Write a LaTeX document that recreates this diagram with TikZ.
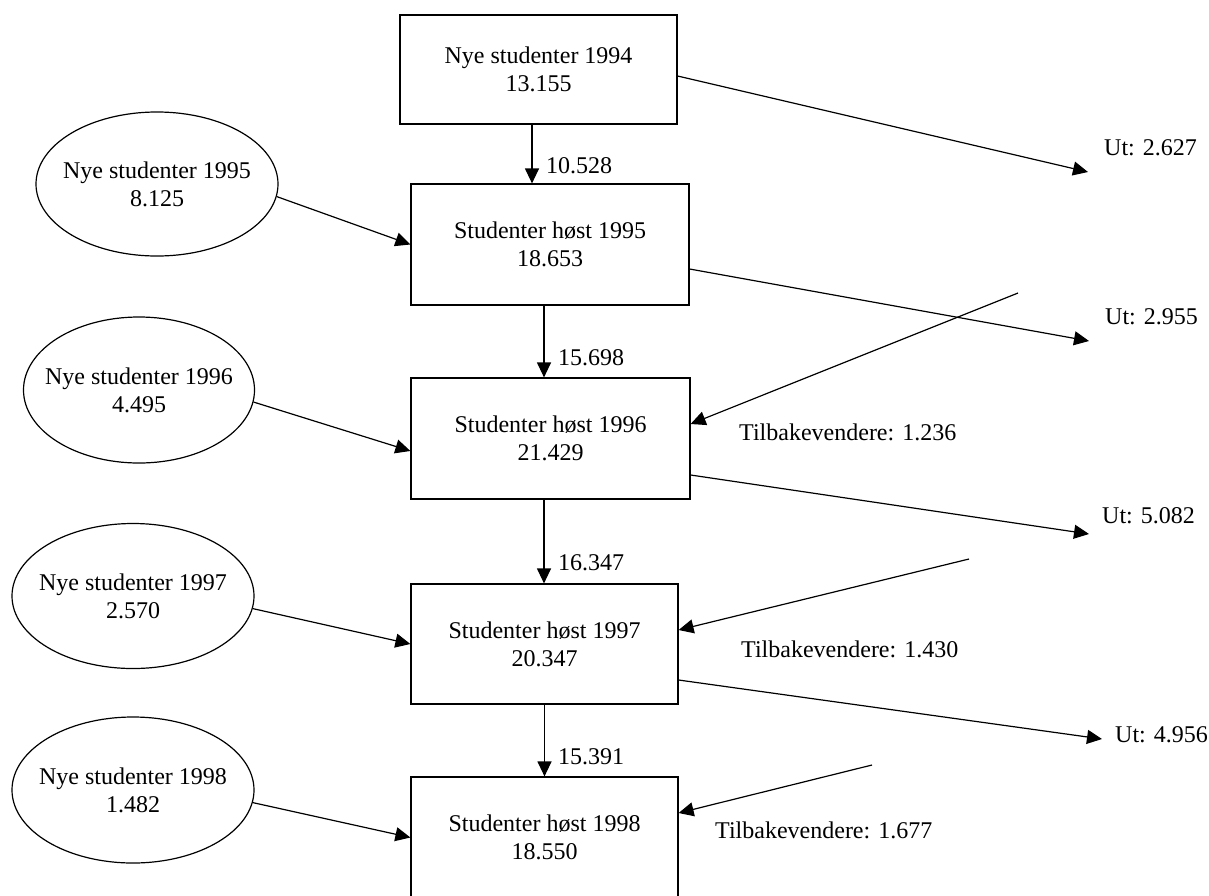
\documentclass[tikz,border=0pt]{standalone}
\usepackage{fontspec}
\setmainfont{Liberation Serif}
\usetikzlibrary{shapes.geometric,arrows.meta}
\begin{document}
\begin{tikzpicture}[x=1pt,y=-1pt,
  every node/.style={font=\fontsize{24}{28}\selectfont, inner sep=0pt},
  box/.style={draw, line width=1.2pt, rectangle, align=center},
  ell/.style={draw, line width=1.2pt, ellipse},
  txt/.style={align=center},
  lbl/.style={anchor=west},
  arr/.style={line width=1.2pt, -{Triangle[length=15pt,width=14pt]}}]
\clip (0,0) rectangle (1209,895);
\fill[white] (0,0) rectangle (1209,895);
% boxes
\node[box, minimum width=277pt, minimum height=109pt] (b94) at (538.5,69.5) {Nye studenter 1994\\13.155};
\node[box, minimum width=278pt, minimum height=121pt] (b95) at (550,244.5) {Studenter høst 1995\\18.653};
\node[box, minimum width=279pt, minimum height=121pt] (b96) at (550.5,438.5) {Studenter høst 1996\\21.429};
\node[box, minimum width=267pt, minimum height=120pt] (b97) at (544.5,644) {Studenter høst 1997\\20.347};
\node[box, minimum width=267pt, minimum height=121pt] (b98) at (544.5,837.5) {Studenter høst 1998\\18.550};
% ellipses
\node[ell, minimum width=242pt, minimum height=144pt] (e95) at (157,184) {};
\node[txt] (e95t) at (e95) {Nye studenter 1995\\8.125};
\node[ell, minimum width=231pt, minimum height=146pt] (e96) at (139,390) {};
\node[txt] (e96t) at (e96) {Nye studenter 1996\\4.495};
\node[ell, minimum width=242pt, minimum height=145pt] (e97) at (133,596) {};
\node[txt] (e97t) at (e97) {Nye studenter 1997\\2.570};
\node[ell, minimum width=242pt, minimum height=146pt] (e98) at (133,790) {};
\node[txt] (e98t) at (e98) {Nye studenter 1998\\1.482};
% labels
\node[lbl] (u1) at (1104,148) {Ut: 2.627};
\node[lbl] (u2) at (1105,317) {Ut: 2.955};
\node[lbl] (u3) at (1102,516) {Ut: 5.082};
\node[lbl] (u4) at (1115,735) {Ut: 4.956};
\node[lbl] (tb1) at (739,432) {Tilbakevendere: 1.236};
\node[lbl] (tb2) at (741,649) {Tilbakevendere: 1.430};
\node[lbl] (tb3) at (715,830) {Tilbakevendere: 1.677};
\node[lbl] (v1) at (546,166) {10.528};
\node[lbl] (v2) at (558,358) {15.698};
\node[lbl] (v3) at (558,563) {16.347};
\node[lbl] (v4) at (558,757) {15.391};
% free ends
\coordinate (o1) at (1088,172);
\coordinate (o2) at (1089,341);
\coordinate (o3) at (1089,534);
\coordinate (o4) at (1102,739);
\coordinate (t1) at (1018,293);
\coordinate (t2) at (969,559);
\coordinate (t3) at (872,765);
% vertical flows
\draw[arr] ([xshift=-6.5pt]b94.south) -- ([xshift=-6.5pt]b94.south |- b95.north);
\draw[arr] ([xshift=-6pt]b95.south) -- ([xshift=-6pt]b95.south |- b96.north);
\draw[arr] ([xshift=-6.5pt]b96.south) -- ([xshift=-6.5pt]b96.south |- b97.north);
\draw[arr] (b97.south) -- (b98.north);
% new students
\draw[arr] (e95.-6) -- (b95.west);
\draw[arr] (e96.-6) -- ([yshift=-12.5pt]b96.west);
\draw[arr] (e97.-6) -- (b97.west);
\draw[arr] (e98.-6) -- (b98.west);
% out flows
\draw[arr] ([yshift=-6.5pt]b94.east) -- (o1);
\draw[arr] ([yshift=-24.5pt]b95.east) -- (o2);
\draw[arr] ([yshift=-36.5pt]b96.east) -- (o3);
\draw[arr] ([yshift=-36pt]b97.east) -- (o4);
% returners
\draw[arr] (t1) -- ([yshift=14.5pt]b96.east);
\draw[arr] (t2) -- ([yshift=14pt]b97.east);
\draw[arr] (t3) -- ([yshift=24.5pt]b98.east);
\end{tikzpicture}
\end{document}
